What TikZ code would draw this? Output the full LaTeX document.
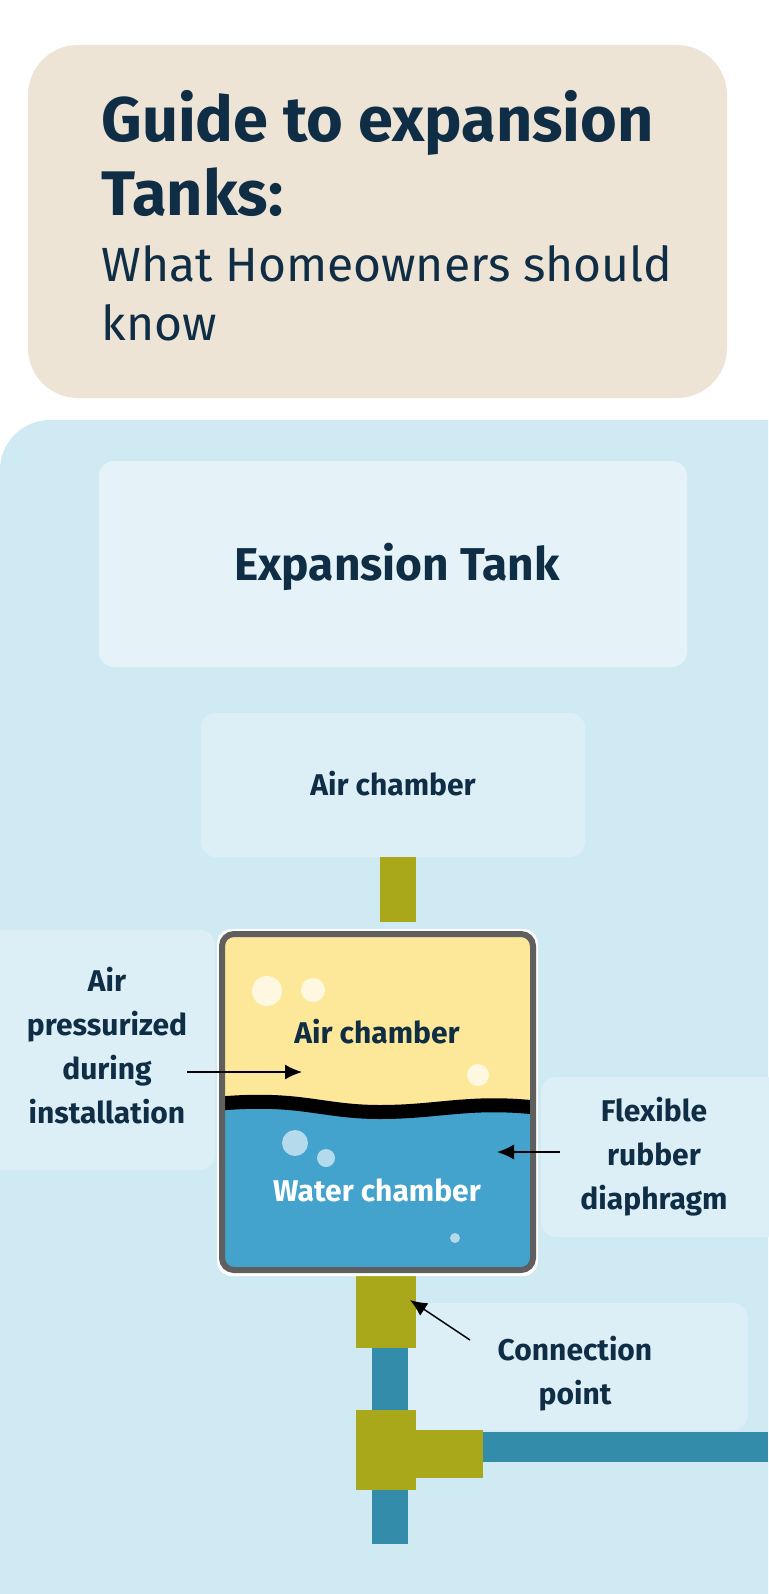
\documentclass[tikz,border=0pt]{standalone}
\usepackage{fontspec}
\setmainfont{Fira Sans}
\usetikzlibrary{positioning,arrows.meta}
\definecolor{navy}{HTML}{0F2D44}
\definecolor{beige}{HTML}{EDE4D6}
\definecolor{panel}{HTML}{D0EAF4}
\definecolor{boxa}{HTML}{E5F3F9}
\definecolor{boxb}{HTML}{DCEFF7}
\definecolor{olive}{HTML}{A8A81A}
\definecolor{pipe}{HTML}{328CAA}
\definecolor{air}{HTML}{FDE89A}
\definecolor{water}{HTML}{43A3CC}
\definecolor{rim}{HTML}{5F5F5F}

\begin{document}
\begin{tikzpicture}[x=1pt,y=-1pt,
  % STYLES
  lbox/.style={fill=boxb,draw=none,rounded corners=15pt},
  lbl/.style={text=navy,font=\fontsize{30}{44}\selectfont\bfseries,align=center},
  bub/.style={fill=white,fill opacity=0.7},
  wbub/.style={fill=white!60!water},
  arr/.style={-{Latex[length=17pt,width=15pt]},line width=1.5pt,black}]

  \useasboundingbox (0,0) rectangle (768,1594);
  \fill[white] (0,0) rectangle (768,1594);

  % header
  \fill[beige,rounded corners=50pt] (28,45) rectangle (727,398);
  \node[anchor=base west,text=navy,font=\fontsize{63}{68}\selectfont\bfseries] (t1) at (98,142) {Guide to expansion};
  \node[anchor=base west,text=navy,font=\fontsize{63}{68}\selectfont\bfseries] (t2) at (98,216) {Tanks:};
  \node[anchor=base west,text=navy,font=\fontsize{48}{60}\selectfont] (t3) at (98,282) {What Homeowners should};
  \node[anchor=base west,text=navy,font=\fontsize{48}{60}\selectfont] (t4) at (98,340) {know};

  % panel
  \fill[panel] (0,470) arc[start angle=180,end angle=270,radius=50] -- (768,420) -- (768,1594) -- (0,1594) -- cycle;

  \fill[boxa,rounded corners=15pt] (99,461) rectangle (687,667);
  \node[text=navy,font=\fontsize{46}{50}\selectfont\bfseries] (head) at (397,567) {Expansion Tank};
  \fill[lbox] (201,713) rectangle (585,857);
  \node[lbl] (top) at (393,784) {Air chamber};

  \fill[lbox] (-20,930) rectangle (215,1170);
  \node[lbl] (left) at (107,1046) {Air\\pressurized\\during\\installation};
  \fill[lbox] (541,1077) rectangle (790,1237);
  \node[lbl] (right) at (654,1157) {Flexible\\rubber\\diaphragm};
  \fill[lbox] (372,1303) rectangle (748,1430);
  \node[lbl] (conn) at (575,1374) {Connection\\point};

  % pipes
  \fill[olive] (380,857) rectangle (416,922);
  \fill[pipe] (372,1340) rectangle (408,1544);
  \fill[pipe] (480,1432) rectangle (768,1462);
  \fill[olive] (356,1275) rectangle (416,1348);
  \fill[olive] (356,1410) rectangle (416,1490);
  \fill[olive] (416,1430) rectangle (483,1478);

  % tank
  \fill[white,rounded corners=15pt] (217,929) rectangle (538,1276);
  \begin{scope}
    \clip[rounded corners=10pt] (222,934) rectangle (533,1270);
    \fill[water] (222,934) rectangle (533,1270);
    \fill[air] (222,934) rectangle (533,1100);
    \fill[air] (222,1095) .. controls (300,1090) and (320,1105) .. (380,1106)
      .. controls (440,1106) and (470,1094) .. (533,1100) -- (533,1090) -- (222,1090) -- cycle;
    \draw[black,line width=14pt] (215,1104) .. controls (300,1096) and (320,1112) .. (380,1112)
      .. controls (440,1112) and (470,1100) .. (540,1108);
    \fill[bub] (267,991) circle (15) (313,990) circle (12) (478,1075) circle (11);
    \fill[wbub] (295,1143) circle (13) (326,1158) circle (9) (455,1238) circle (5);
  \end{scope}
  \draw[rim,line width=6pt,rounded corners=12pt] (222,934) rectangle (533,1270);
  \node[lbl] (airc) at (377,1032) {Air chamber};
  \node[lbl,text=white] (watc) at (377,1190) {Water chamber};

  % pointers
  \coordinate (pa) at (302,1072);
  \coordinate (pb) at (497,1152);
  \coordinate (pc) at (410,1300);
  \draw[arr] (187,1072) -- (pa);
  \draw[arr] (560,1152) -- (pb);
  \draw[arr] (470,1340) -- (pc);
\end{tikzpicture}
\end{document}
